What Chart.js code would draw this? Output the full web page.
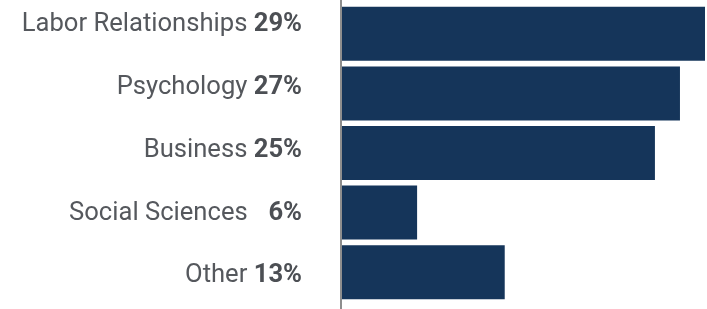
<!DOCTYPE html>
<html>
<head>
<meta charset="utf-8">
<script src="https://cdn.jsdelivr.net/npm/chart.js@4/dist/chart.umd.min.js"></script>
<style>
  html, body { margin: 0; padding: 0; background: #fff; }
  canvas { display: block; }
</style>
</head>
<body>
<canvas id="chart" width="707" height="309"></canvas>
<script>
// data
const categories = ["Labor Relationships", "Psychology", "Business", "Social Sciences", "Other"];
const shares = [29, 27, 25, 6, 13];
const shareLabels = ["29%", "27%", "25%", "\u20076%", "13%"];

const barColor = "#15355a";
const textColor = "#55585d";
const fontFamily = "Roboto, 'Noto Sans', sans-serif";

// draws the category names with the bold percentage, and the grey axis line
const sideLabels = {
  id: "sideLabels",
  beforeDatasetsDraw(chart) {
    const ctx = chart.ctx;
    const x0 = chart.scales.x.getPixelForValue(0);
    ctx.save();
    ctx.strokeStyle = "#8e8e8e";
    ctx.lineWidth = 2;
    ctx.beginPath();
    ctx.moveTo(x0 - 1, 0);
    ctx.lineTo(x0 - 1, chart.height);
    ctx.stroke();
    ctx.restore();
  },
  afterDraw(chart) {
    const ctx = chart.ctx;
    const yScale = chart.scales.y;
    const right = 302;
    ctx.save();
    ctx.textBaseline = "alphabetic";
    ctx.textAlign = "right";
    categories.forEach((name, i) => {
      // labels sit on a slightly wider pitch than the bars
      const y = yScale.getPixelForTick(i) + 3.7 + (i - 2) * 3.2;
      ctx.font = "bold 25.6px " + fontFamily;
      ctx.fillStyle = "#4c4f54";
      ctx.fillText(shareLabels[i], right, y);
      const w = ctx.measureText(shareLabels[i]).width;
      ctx.font = "25.6px " + fontFamily;
      ctx.fillStyle = textColor;
      ctx.fillText(name + " ", right - w, y);
    });
    ctx.restore();
  }
};

new Chart(document.getElementById("chart"), {
  type: "bar",
  data: {
    labels: categories,
    datasets: [{
      data: shares,
      backgroundColor: barColor,
      borderWidth: 0,
      categoryPercentage: 1,
      barPercentage: 0.906
    }]
  },
  options: {
    indexAxis: "y",
    responsive: false,
    animation: false,
    layout: { padding: { left: 342, right: 2, top: 4, bottom: 7 } },
    scales: {
      x: { display: false, min: 0, max: 29 },
      y: { display: false }
    },
    plugins: {
      legend: { display: false },
      tooltip: { enabled: false }
    }
  },
  plugins: [sideLabels]
});
</script>
</body>
</html>
